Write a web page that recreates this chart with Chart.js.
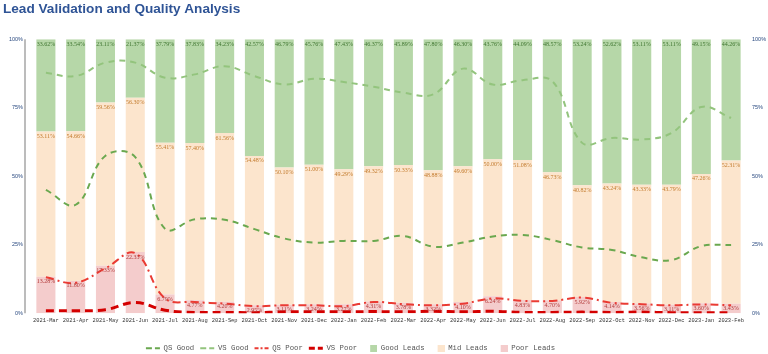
<!DOCTYPE html>
<html>
<head>
<meta charset="utf-8">
<script src="https://cdn.jsdelivr.net/npm/chart.js@4.4.0/dist/chart.umd.min.js"></script>
<style>
  html, body { margin: 0; padding: 0; background: #fff; }
</style>
</head>
<body>
<canvas id="leadChart" width="768" height="354"></canvas>
<script>
const MONTHS = ['2021-Mar','2021-Apr','2021-May','2021-Jun','2021-Jul','2021-Aug','2021-Sep','2021-Oct',
  '2021-Nov','2021-Dec','2022-Jan','2022-Feb','2022-Mar','2022-Apr','2022-May','2022-Jun',
  '2022-Jul','2022-Aug','2022-Sep','2022-Oct','2022-Nov','2022-Dec','2023-Jan','2023-Feb'];

// stacked shares (%)
const GOOD_LEADS = [33.62,33.54,23.11,21.37,37.79,37.83,34.23,42.57,46.79,45.76,47.43,46.37,
  45.89,47.80,46.30,43.76,44.09,48.57,53.24,52.62,53.11,53.11,49.15,44.26];
const MID_LEADS = [53.11,54.66,59.56,56.30,55.41,57.40,61.56,54.48,50.10,51.00,49.29,49.32,
  50.33,48.88,49.60,50.00,51.08,46.73,40.82,43.24,43.33,43.79,47.26,52.31];
const POOR_LEADS = [13.28,11.80,17.33,22.33,6.79,4.77,4.20,2.95,3.11,3.24,3.27,4.31,
  3.78,3.32,4.10,6.24,4.83,4.70,5.92,4.14,3.56,3.11,3.60,3.43];

// score lines (%)
const QS_GOOD = [45.0,39.6,57.5,57.0,30.8,34.3,34.1,30.7,27.3,25.8,26.4,26.4,
  28.2,24.3,25.8,28.0,28.6,26.7,24.0,23.1,20.4,19.4,24.5,24.9];
const VS_GOOD = [87.8,86.6,91.5,91.5,86.0,87.2,90.2,86.6,83.5,85.6,84.4,82.7,
  80.5,79.9,89.3,83.5,85.1,84.7,62.2,64.0,63.4,65.8,75.3,71.3];
const QS_POOR = [13.1,11.1,16.4,21.9,5.4,4.1,3.5,2.6,2.9,2.9,2.6,4.1,
  3.3,2.9,3.5,5.4,4.5,4.5,5.7,3.8,3.3,2.9,3.2,2.9];
const VS_POOR = [0.9,0.9,1.3,3.9,1.1,0.3,0.3,0.2,0.5,0.5,0.5,0.6,
  0.5,0.7,0.5,0.7,0.3,0.3,0.4,0.3,0.4,0.2,0.2,0.2];

const Y_TICKS = [0, 25, 50, 75, 100];

// legend lists lines first, then Good / Mid / Poor
const LEGEND_ORDER = [0, 1, 2, 3, 6, 5, 4];

// square legend swatch, pushed to the right end of the 14px symbol slot
function swatch(color) {
  const c = document.createElement('canvas');
  c.width = 14;
  c.height = 7;
  const g = c.getContext('2d');
  g.fillStyle = color;
  g.fillRect(7, 0, 7, 7);
  return c;
}

function lineSet(label, data, color, width, dash, legendDash) {
  return {
    type: 'line', label: label, data: data, yAxisID: 'y1', order: 0,
    borderColor: color, backgroundColor: color, borderWidth: width, borderDash: dash,
    tension: 0.4, pointRadius: 0, pointStyle: 'line', fill: false, legendDash: legendDash
  };
}

function barSet(label, data, color, labelColor) {
  return {
    type: 'bar', label: label, data: data, yAxisID: 'y', order: 1,
    backgroundColor: color, borderWidth: 0, pointStyle: swatch(color),
    barPercentage: 0.64, categoryPercentage: 1.0, labelColor: labelColor
  };
}

// value labels just below the top of each segment
const segmentLabels = {
  id: 'segmentLabels',
  afterDatasetsDraw(chart) {
    const ctx = chart.ctx;
    ctx.save();
    ctx.font = '6px "Liberation Serif"';
    ctx.textAlign = 'center';
    ctx.textBaseline = 'middle';
    chart.data.datasets.forEach((ds, i) => {
      if (ds.type !== 'bar') return;
      const meta = chart.getDatasetMeta(i);
      ctx.fillStyle = ds.labelColor;
      meta.data.forEach((bar, j) => {
        ctx.fillText(ds.data[j].toFixed(2) + '%', bar.x, bar.y + 5);
      });
    });
    ctx.restore();
  }
};

// axis rule sits a little left of the first bar slot
const leftRule = {
  id: 'leftRule',
  afterDraw(chart) {
    const a = chart.chartArea;
    const ctx = chart.ctx;
    ctx.save();
    ctx.strokeStyle = '#a6a6a6';
    ctx.lineWidth = 1.5;
    ctx.beginPath();
    ctx.moveTo(a.left - 6, a.top);
    ctx.lineTo(a.left - 6, a.bottom);
    ctx.stroke();
    ctx.restore();
  }
};

const legendShift = {
  id: 'legendShift',
  afterLayout(chart) {
    const lg = chart.legend;
    lg.top += 11; lg.bottom += 11;
    lg.left -= 35; lg.right -= 35;
  }
};

const tickFont = { family: 'Liberation Sans', size: 5.5 };

new Chart(document.getElementById('leadChart'), {
  data: {
    labels: MONTHS,
    datasets: [
      lineSet('QS Good', QS_GOOD, '#6aa84f', 2, [6, 5], [6, 3]),
      lineSet('VS Good', VS_GOOD, '#93c47d', 2, [6, 5], [6, 3]),
      lineSet('QS Poor', QS_POOR, '#ea3b33', 2, [8, 4, 2, 4], [4, 2, 2, 2]),
      lineSet('VS Poor', VS_POOR, '#d40000', 3, [8, 5], [6, 3]),
      barSet('Poor Leads', POOR_LEADS, '#f4cccc', '#b23a3a'),
      barSet('Mid Leads', MID_LEADS, '#fce5cd', '#c27a2c'),
      barSet('Good Leads', GOOD_LEADS, '#b6d7a8', '#3f7530')
    ]
  },
  options: {
    responsive: false,
    animation: false,
    layout: { padding: { left: 3, right: 0, top: 0, bottom: 3 } },
    scales: {
      x: {
        stacked: true,
        grid: { display: false, drawTicks: false },
        border: { display: false },
        ticks: { font: { family: 'Liberation Mono', size: 5.4 }, color: '#333', padding: 4, maxRotation: 0, autoSkip: false }
      },
      y: {
        stacked: true, min: 0, max: 100, position: 'left',
        grid: { display: false, drawTicks: false },
        border: { display: false },
        afterBuildTicks: s => { s.ticks = Y_TICKS.map(v => ({ value: v })); },
        afterFit: s => { s.width = 28; },
        ticks: { font: tickFont, color: '#2a4a80', padding: 8, callback: v => v + '%' }
      },
      y1: {
        min: 0, max: 100, position: 'right',
        grid: { display: false, drawTicks: false },
        border: { display: false },
        afterBuildTicks: s => { s.ticks = Y_TICKS.map(v => ({ value: v })); },
        afterFit: s => { s.width = 22; },
        ticks: { font: tickFont, color: '#2a4a80', padding: 6, callback: v => v + '%' }
      }
    },
    plugins: {
      title: {
        display: true, align: 'start',
        text: 'Lead Validation and Quality Analysis',
        color: '#2f5496',
        font: { family: 'Liberation Sans', size: 13.6, weight: 'bold' },
        padding: { top: 1, bottom: 22 }
      },
      legend: {
        position: 'bottom',
        labels: {
          usePointStyle: true, pointStyleWidth: 14, boxHeight: 7,
          font: { family: 'Liberation Mono', size: 7.3 }, color: '#555', padding: 6,
          sort: (a, b) => LEGEND_ORDER.indexOf(a.datasetIndex) - LEGEND_ORDER.indexOf(b.datasetIndex),
          generateLabels: chart => {
            const items = Chart.defaults.plugins.legend.labels.generateLabels(chart);
            items.forEach(it => {
              const ds = chart.data.datasets[it.datasetIndex];
              if (ds.type === 'line') {
                it.lineDash = ds.legendDash;
                it.lineWidth = ds.borderWidth;
                it.strokeStyle = ds.borderColor;
              }
            });
            return items;
          }
        }
      },
      tooltip: { enabled: false }
    }
  },
  plugins: [segmentLabels, leftRule, legendShift]
});
</script>
</body>
</html>
